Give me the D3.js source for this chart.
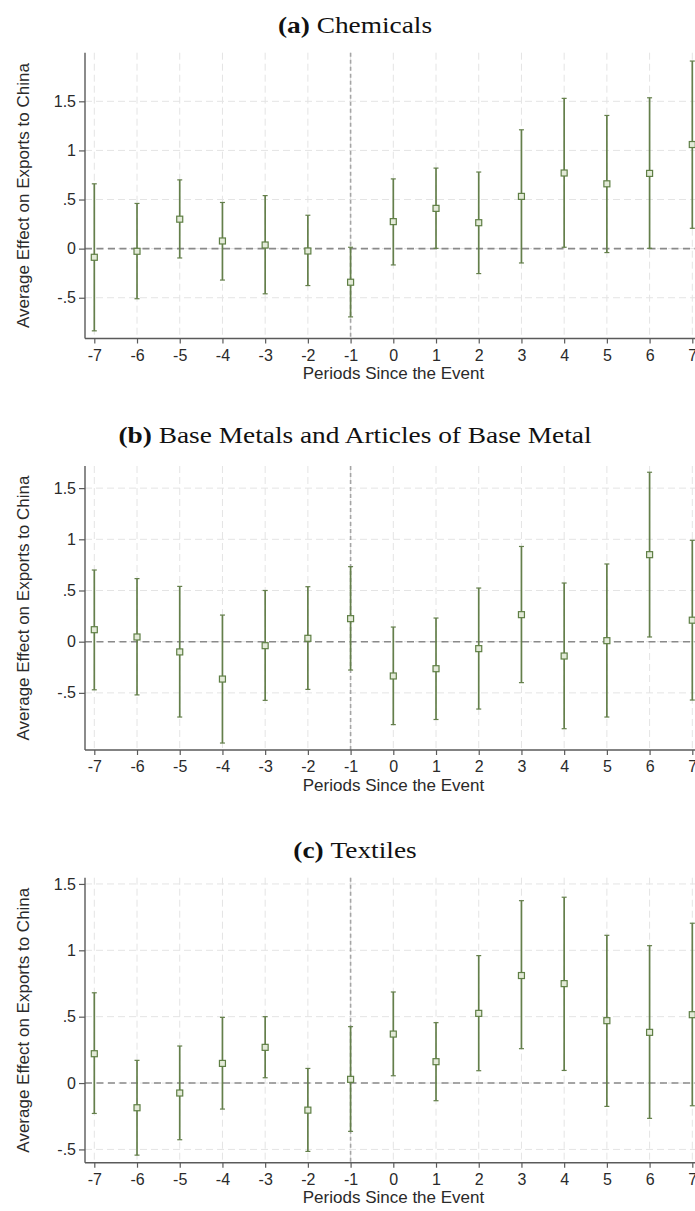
<!DOCTYPE html>
<html>
<head>
<meta charset="utf-8">
<script src="https://cdn.jsdelivr.net/npm/d3@7"></script>
<style>
  html, body { margin: 0; padding: 0; background: #fff; }
  svg { display: block; }
  .tick text { font-family: "Liberation Sans", Arial, sans-serif; }
</style>
</head>
<body>
<svg id="fig" width="695" height="1211"></svg>
<script>
// Event-study estimates: periods relative to the event
const periods = [-7, -6, -5, -4, -3, -2, -1, 0, 1, 2, 3, 4, 5, 6, 7];

// (a) Chemicals
const chemCoef = [-0.088, -0.027, 0.30, 0.078, 0.037, -0.024, -0.342, 0.275, 0.41, 0.264, 0.532, 0.77, 0.66, 0.766, 1.06];
const chemLo   = [-0.837, -0.51, -0.095, -0.32, -0.46, -0.376, -0.695, -0.166, 0.003, -0.254, -0.146, 0.014, -0.04, 0.003, 0.207];
const chemHi   = [0.66, 0.46, 0.70, 0.47, 0.54, 0.34, 0.014, 0.71, 0.82, 0.78, 1.21, 1.53, 1.356, 1.536, 1.91];

// (b) Base Metals and Articles of Base Metal
const metalCoef = [0.117, 0.046, -0.10, -0.365, -0.039, 0.033, 0.225, -0.335, -0.264, -0.068, 0.264, -0.14, 0.01, 0.85, 0.21];
const metalLo   = [-0.47, -0.52, -0.736, -0.99, -0.573, -0.466, -0.277, -0.81, -0.76, -0.658, -0.40, -0.85, -0.736, 0.046, -0.57];
const metalHi   = [0.70, 0.616, 0.54, 0.26, 0.50, 0.537, 0.733, 0.143, 0.231, 0.524, 0.93, 0.573, 0.759, 1.655, 0.99];

// (c) Textiles
const textCoef = [0.221, -0.186, -0.075, 0.148, 0.269, -0.204, 0.028, 0.369, 0.161, 0.525, 0.81, 0.749, 0.47, 0.382, 0.515];
const textLo   = [-0.229, -0.543, -0.427, -0.196, 0.04, -0.515, -0.364, 0.055, -0.133, 0.093, 0.259, 0.095, -0.176, -0.266, -0.171];
const textHi   = [0.68, 0.171, 0.279, 0.495, 0.50, 0.11, 0.425, 0.686, 0.455, 0.96, 1.374, 1.40, 1.113, 1.035, 1.204];

const panelLetters = ["(a)", "(b)", "(c)"];
const panelNames = ["Chemicals", "Base Metals and Articles of Base Metal", "Textiles"];
const yTicks = [-0.5, 0, 0.5, 1, 1.5];
const yTickLabels = ["-.5", "0", ".5", "1", "1.5"];
const xTickLabels = ["-7", "-6", "-5", "-4", "-3", "-2", "-1", "0", "1", "2", "3", "4", "5", "6", "7"];
const yAxisTitle = "Average Effect on Exports to China";
const xAxisTitle = "Periods Since the Event";
const eventPeriod = -1;

// y-axis extent of each panel (value range shown)
const yExtents = [[-0.915, 1.995], [-1.058, 1.716], [-0.60, 1.547]];

const series = [
  { coef: chemCoef, lo: chemLo, hi: chemHi },
  { coef: metalCoef, lo: metalLo, hi: metalHi },
  { coef: textCoef, lo: textLo, hi: textHi }
];

// layout of each panel on the page
const layout = [
  { titleY: 25, top: 52.7, bottom: 338.5 },
  { titleY: 435, top: 466, bottom: 750 },
  { titleY: 850, top: 877.7, bottom: 1162.7 }
];
const plotLeft = 85;
const plotRight = 702;
const titleX = 355;

const barColor = "#647f4b";
const markerStroke = "#5f7f45";
const markerFill = "#e3ead8";
const axisColor = "#5a5a5a";
const gridColor = "#e4e4e4";
const sans = '"Liberation Sans", Arial, sans-serif';
const serif = '"Liberation Serif", "Times New Roman", serif';

const svg = d3.select("#fig");
svg.append("rect").attr("width", 695).attr("height", 1211).attr("fill", "#fff");

const x = d3.scaleLinear().domain([-7, 7]).range([94.3, 692.3]);

series.forEach((s, i) => {
  const L = layout[i];
  const y = d3.scaleLinear().domain(yExtents[i]).range([L.bottom, L.top]);
  const g = svg.append("g");

  // panel title (set in a wide serif, stretched horizontally)
  const title = g.append("text")
    .attr("transform", `translate(${titleX},${L.titleY}) scale(1.14,1)`)
    .attr("text-anchor", "middle").attr("dominant-baseline", "central")
    .attr("font-family", serif).attr("font-size", 24).attr("fill", "#111");
  title.append("tspan").attr("font-weight", "bold").text(panelLetters[i]);
  title.append("tspan").text("\u00a0" + panelNames[i]);

  // gridlines
  g.append("g").selectAll("line").data(yTicks).join("line")
    .attr("x1", plotLeft).attr("x2", plotRight)
    .attr("y1", d => y(d)).attr("y2", d => y(d))
    .attr("stroke", gridColor).attr("stroke-width", 1).attr("stroke-dasharray", "7,4");
  g.append("g").selectAll("line").data(periods).join("line")
    .attr("x1", d => x(d)).attr("x2", d => x(d))
    .attr("y1", L.top).attr("y2", L.bottom)
    .attr("stroke", gridColor).attr("stroke-width", 1).attr("stroke-dasharray", "7,4");

  // reference lines: zero effect and event period
  g.append("line")
    .attr("x1", plotLeft).attr("x2", plotRight)
    .attr("y1", y(0)).attr("y2", y(0))
    .attr("stroke", "#8a8a8a").attr("stroke-width", 1.6).attr("stroke-dasharray", "7,4.5");
  g.append("line")
    .attr("x1", x(eventPeriod)).attr("x2", x(eventPeriod))
    .attr("y1", L.top).attr("y2", L.bottom)
    .attr("stroke", "#a5a5a5").attr("stroke-width", 1.6).attr("stroke-dasharray", "4,3");

  // axes
  const yAxis = d3.axisLeft(y).tickValues(yTicks)
    .tickFormat((d, k) => yTickLabels[k]).tickSize(6).tickPadding(3);
  const ya = g.append("g").attr("transform", `translate(${plotLeft},0)`).call(yAxis);
  ya.select(".domain").attr("d", `M0,${L.top}V${L.bottom}`);

  const xAxis = d3.axisBottom(x).tickValues(periods)
    .tickFormat((d, k) => xTickLabels[k]).tickSize(5).tickPadding(6);
  const xa = g.append("g").attr("transform", `translate(0,${L.bottom})`).call(xAxis);
  xa.select(".domain").attr("d", `M${plotLeft},0H${plotRight}`);

  [ya, xa].forEach(a => {
    a.select(".domain").attr("stroke", axisColor).attr("stroke-width", 1.4);
    a.selectAll(".tick line").attr("stroke", axisColor).attr("stroke-width", 1.2);
    a.selectAll(".tick text").attr("font-size", 16).attr("fill", "#2a2a2a");
  });

  // axis titles
  g.append("text")
    .attr("transform", `translate(23,${(L.top + L.bottom) / 2}) rotate(-90)`)
    .attr("text-anchor", "middle").attr("dominant-baseline", "central")
    .attr("font-family", sans).attr("font-size", 17).attr("fill", "#2a2a2a")
    .text(yAxisTitle);
  g.append("text")
    .attr("x", (plotLeft + plotRight) / 2).attr("y", L.bottom + 35)
    .attr("text-anchor", "middle").attr("dominant-baseline", "central")
    .attr("font-family", sans).attr("font-size", 17).attr("fill", "#2a2a2a")
    .text(xAxisTitle);

  // confidence intervals
  const rows = periods.map((p, k) => ({ p, c: s.coef[k], lo: s.lo[k], hi: s.hi[k] }));
  const bars = g.append("g");
  bars.selectAll("line.ci").data(rows).join("line").attr("class", "ci")
    .attr("x1", d => x(d.p)).attr("x2", d => x(d.p))
    .attr("y1", d => y(d.lo)).attr("y2", d => y(d.hi))
    .attr("stroke", barColor).attr("stroke-width", 1.7);
  bars.selectAll("line.caphi").data(rows).join("line").attr("class", "caphi")
    .attr("x1", d => x(d.p) - 2.5).attr("x2", d => x(d.p) + 2.5)
    .attr("y1", d => y(d.hi)).attr("y2", d => y(d.hi))
    .attr("stroke", barColor).attr("stroke-width", 1.2);
  bars.selectAll("line.caplo").data(rows).join("line").attr("class", "caplo")
    .attr("x1", d => x(d.p) - 2.5).attr("x2", d => x(d.p) + 2.5)
    .attr("y1", d => y(d.lo)).attr("y2", d => y(d.lo))
    .attr("stroke", barColor).attr("stroke-width", 1.2);

  // point estimates
  g.append("g").selectAll("rect").data(rows).join("rect")
    .attr("x", d => x(d.p) - 3).attr("y", d => y(d.c) - 3)
    .attr("width", 6).attr("height", 6)
    .attr("fill", markerFill).attr("stroke", markerStroke).attr("stroke-width", 1.2);
});
</script>
</body>
</html>
